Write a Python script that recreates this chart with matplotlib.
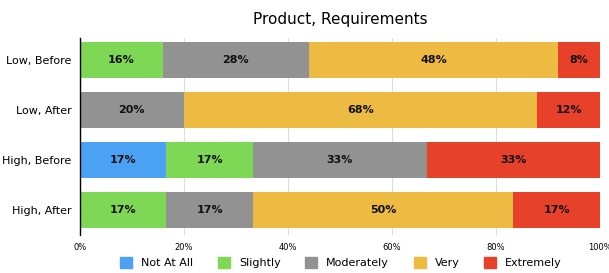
import numpy as np
import matplotlib.pyplot as plt
from matplotlib.patches import Patch

# datos
categorias = ["Low, Before", "Low, After", "High, Before", "High, After"]
niveles = ["Not At All", "Slightly", "Moderately", "Very", "Extremely"]
not_at_all = [0, 0, 16.67, 0]
slightly = [16, 0, 16.67, 16.67]
moderately = [28, 20, 33.33, 16.67]
very = [48, 68, 0, 50]
extremely = [8, 12, 33.33, 16.67]
colores = ["#4BA2F5", "#7FD855", "#929292", "#EDBA42", "#E8412A"]

series = [not_at_all, slightly, moderately, very, extremely]

fig = plt.figure(figsize=(6.09, 2.73), dpi=100)
ax = fig.add_axes([0.131, 0.139, 0.854, 0.722])

y = np.arange(len(categorias))
izq = np.zeros(len(categorias))
for vals, col in zip(series, colores):
    vals = np.array(vals)
    ax.barh(y, vals, left=izq, height=0.72, color=col, zorder=3)
    for yi, l, v in zip(y, izq, vals):
        if v > 0:
            ax.text(l + v / 2, yi, f"{v:.0f}%", ha="center", va="center",
                    fontsize=8, fontweight="bold", color="#111111", zorder=4)
    izq = izq + vals

ax.set_xlim(0, 100)
ax.set_ylim(3.5, -0.45)
ax.set_yticks(y)
ax.set_yticklabels(categorias, fontsize=8)
ax.set_xticks([0, 20, 40, 60, 80, 100])
ax.set_xticklabels(["0%", "20%", "40%", "60%", "80%", "100%"], fontsize=6)
ax.tick_params(length=0, pad=6)
ax.grid(axis="x", color="#DDDDDD", linewidth=0.8, zorder=0)
for s in ["top", "right", "bottom"]:
    ax.spines[s].set_visible(False)
ax.spines["left"].set_color("black")
ax.spines["left"].set_linewidth(1)
ax.spines["left"].set_zorder(5)

ax.set_title("Product, Requirements", fontsize=11, pad=10)

handles = [Patch(color=c, label=n) for c, n in zip(colores, niveles)]
fig.legend(handles=handles, loc="lower center", ncol=5, frameon=False,
           fontsize=8, bbox_to_anchor=(0.56, -0.02), handlelength=1.1,
           handleheight=1.1, columnspacing=2.2, handletextpad=0.8)

fig.savefig("out.png", dpi=100)
